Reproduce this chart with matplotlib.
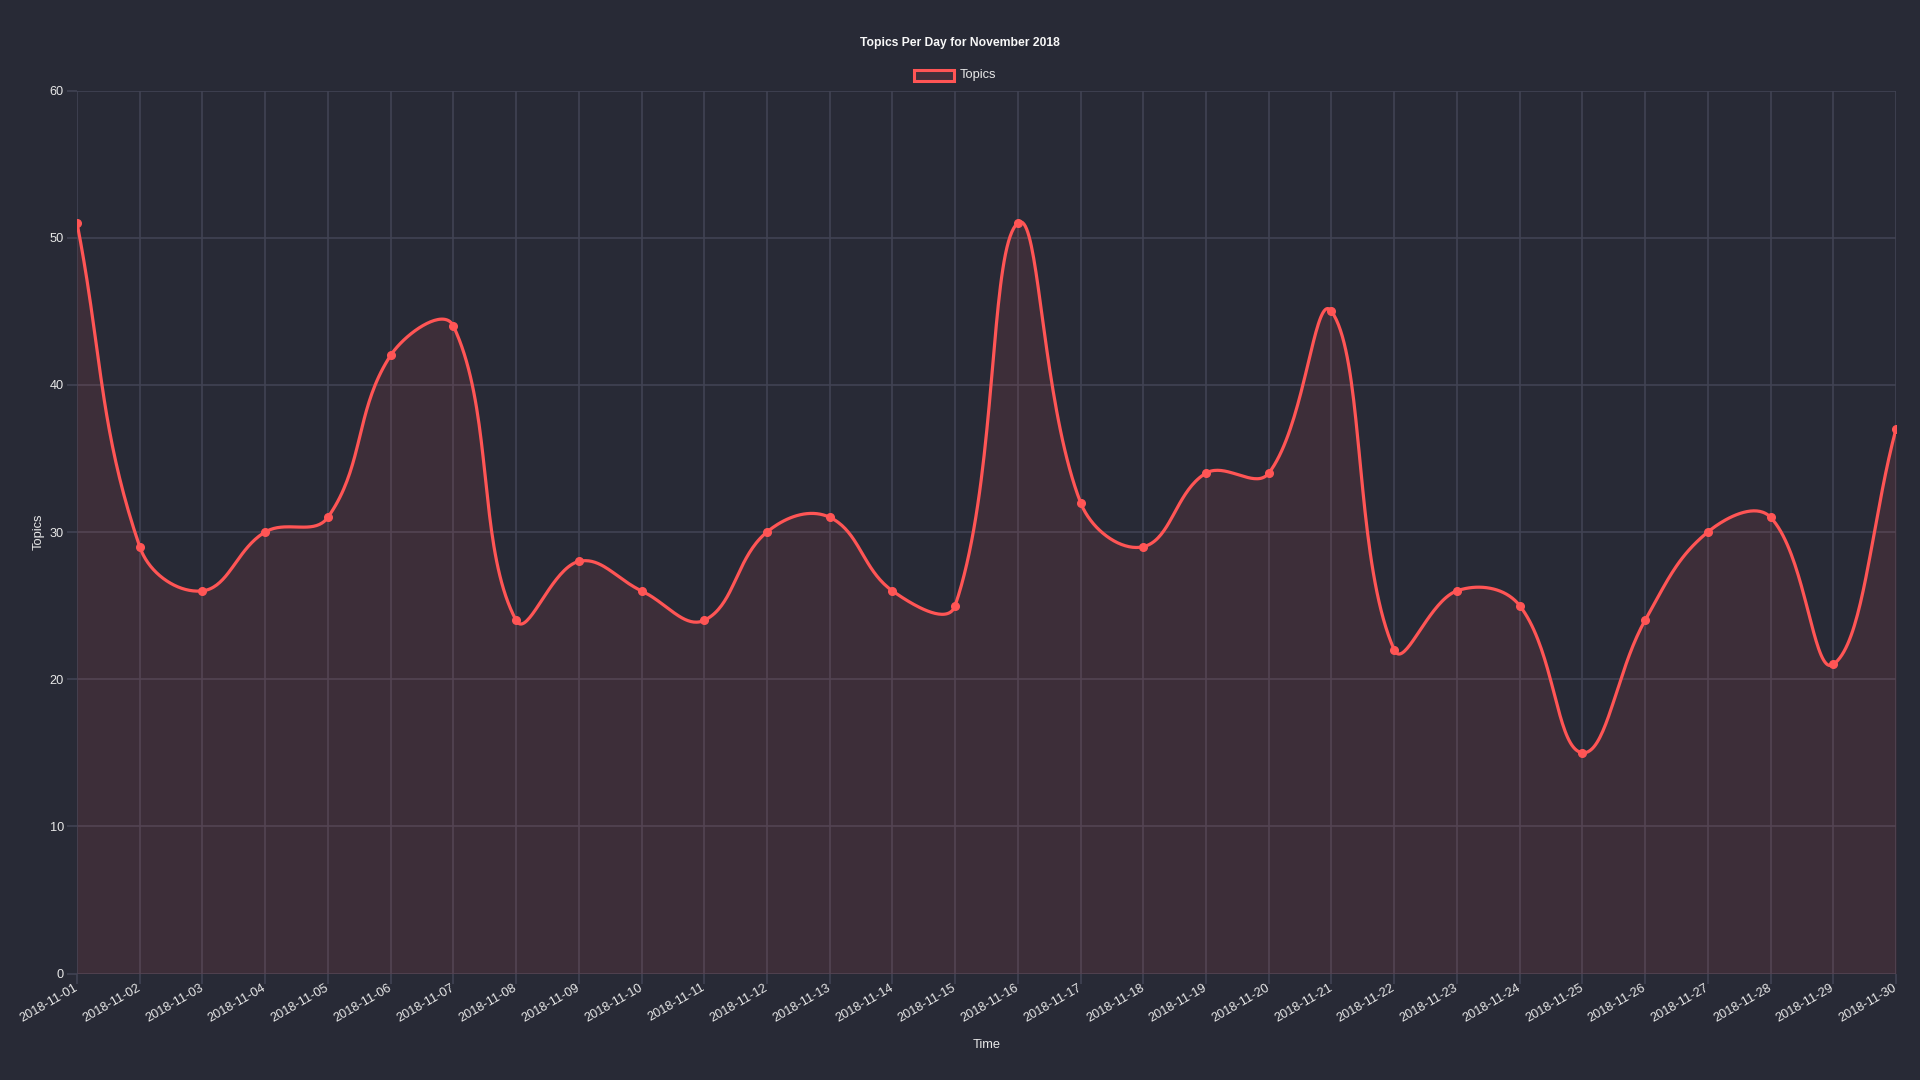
import numpy as np
import pandas as pd
import matplotlib
matplotlib.use("Agg")
import matplotlib.pyplot as plt

days = pd.date_range("2018-11-01", "2018-11-30", freq="D")
labels = [d.strftime("%Y-%m-%d") for d in days]
topics = [51, 29, 26, 30, 31, 42, 44, 24, 28, 26, 24, 30, 31, 26, 25,
          51, 32, 29, 34, 34, 45, 22, 26, 25, 15, 24, 30, 31, 21, 37]

bg = "#282a36"
red = "#ff5555"
grid = "#414354"
txt = "#e8e8e8"

plt.rcParams["font.family"] = ["Liberation Sans", "DejaVu Sans"]

fig = plt.figure(figsize=(19.2, 10.8), dpi=100, facecolor=bg)
ax = fig.add_axes([77 / 1920, 1 - 973.5 / 1080, (1896 - 77) / 1920, (973.5 - 90.5) / 1080])
ax.set_facecolor(bg)

ymax = 60
# chart.js style cubic interpolation (tension 0.4), computed in pixel space
sx = (1896 - 77) / (len(topics) - 1)
sy = (973.5 - 90.5) / ymax
px = np.arange(len(topics)) * sx
py = np.array(topics, dtype=float) * sy
n = len(px)
cp_prev = np.zeros((n, 2))
cp_next = np.zeros((n, 2))
tension = 0.4
for i in range(n):
    a = max(i - 1, 0)
    b = min(i + 1, n - 1)
    d01 = np.hypot(px[i] - px[a], py[i] - py[a])
    d12 = np.hypot(px[b] - px[i], py[b] - py[i])
    s01 = d01 / (d01 + d12) if d01 + d12 else 0
    s12 = d12 / (d01 + d12) if d01 + d12 else 0
    fa = tension * s01
    fb = tension * s12
    cp_prev[i] = [px[i] - fa * (px[b] - px[a]), py[i] - fa * (py[b] - py[a])]
    cp_next[i] = [px[i] + fb * (px[b] - px[a]), py[i] + fb * (py[b] - py[a])]
cp_prev[:, 1] = np.clip(cp_prev[:, 1], 0, ymax * sy)
cp_next[:, 1] = np.clip(cp_next[:, 1], 0, ymax * sy)

t = np.linspace(0, 1, 40)[:, None]
cx, cy = [], []
for i in range(n - 1):
    p0 = np.array([px[i], py[i]])
    p3 = np.array([px[i + 1], py[i + 1]])
    p1 = cp_next[i]
    p2 = cp_prev[i + 1]
    pts = (1 - t) ** 3 * p0 + 3 * (1 - t) ** 2 * t * p1 + 3 * (1 - t) * t ** 2 * p2 + t ** 3 * p3
    cx.extend(pts[:, 0])
    cy.extend(pts[:, 1])
cx = np.array(cx) / sx
cy = np.array(cy) / sy

x = np.arange(n)
ax.fill_between(cx, cy, 0, color=red, alpha=0.1, lw=0, zorder=2)
ax.plot(cx, cy, color=red, lw=2.3, zorder=3, solid_capstyle="round")
ax.plot(x, topics, "o", color=red, ms=5.5, zorder=4)

ax.set_xlim(0, n - 1)
ax.set_ylim(0, ymax)
ax.set_xticks(x)
ax.set_xticklabels(labels, rotation=30, ha="right", va="center", rotation_mode="anchor")
ax.set_yticks(range(0, 61, 10))
ax.grid(True, color=grid, lw=1.2, zorder=1)
ax.set_axisbelow(True)
for s in ax.spines.values():
    s.set_visible(False)
ax.tick_params(colors=txt, labelsize=9.2, length=7.5, width=1.2, pad=2)
ax.tick_params(axis="x", color=grid, pad=2.0)
ax.tick_params(axis="y", color=grid)
ax.set_xlabel("Time", color=txt, fontsize=9.3, labelpad=10.5)
ax.set_ylabel("Topics", color=txt, fontsize=9.3, labelpad=3.5)

fig.text(0.5, 1 - 43 / 1080, "Topics Per Day for November 2018", color="#f8f8f8",
         fontsize=8.7, fontweight="bold", ha="center", va="center")
leg_box = plt.Rectangle((914 / 1920, 1 - 80.5 / 1080), 40 / 1920, 11 / 1080,
                        transform=fig.transFigure, facecolor="#40303b",
                        edgecolor=red, lw=2.2)
fig.add_artist(leg_box)
fig.text(960 / 1920, 1 - 75 / 1080, "Topics", color=txt, fontsize=9.3, ha="left", va="center")

fig.savefig("out.png", dpi=100, facecolor=bg)
